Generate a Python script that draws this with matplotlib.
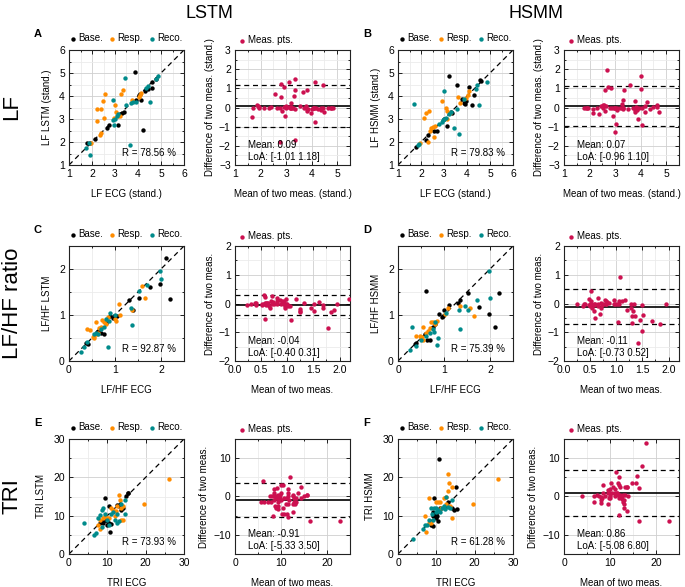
import numpy as np
import matplotlib
matplotlib.use("Agg")
import matplotlib.pyplot as plt
from matplotlib.ticker import MultipleLocator

plt.rcParams['font.family'] = ['Liberation Sans', 'DejaVu Sans']
plt.rcParams['font.size'] = 7

# ---------------- data ----------------
groups = ["Base.", "Resp.", "Reco."]
group_colors = ["#000000", "#ff8c00", "#008b8b"]
ba_color = "#cc1150"

# Panel A: LF, ECG vs LSTM
lf_lstm_base_x = [1.8, 1.9, 2.15, 2.65, 2.75, 3.15, 3.2, 3.3, 3.4, 3.85, 3.9, 4.05, 4.1, 4.12, 4.2, 4.3, 4.45, 4.6, 4.62, 4.8]
lf_lstm_base_y = [1.95, 1.95, 2.15, 2.6, 2.75, 2.73, 3.2, 3.25, 3.3, 5.05, 3.82, 4.05, 4.1, 3.83, 2.52, 4.2, 4.3, 4.35, 4.62, 4.75]
lf_lstm_resp_x = [1.95, 2.2, 2.2, 2.35, 2.38, 2.4, 2.47, 2.52, 2.58, 2.95, 3.0, 3.05, 3.15, 3.2, 3.25, 3.35, 3.75, 4.05, 4.1, 4.15]
lf_lstm_resp_y = [1.95, 3.42, 2.92, 2.3, 2.4, 3.45, 3.78, 3.05, 4.08, 3.05, 3.6, 3.3, 3.12, 3.15, 4.08, 4.28, 3.82, 3.95, 4.05, 4.15]
lf_lstm_reco_x = [1.72, 1.9, 1.88, 2.9, 2.92, 2.95, 3.1, 3.15, 3.45, 3.5, 3.65, 3.7, 3.8, 3.9, 4.35, 4.45, 4.5, 4.8, 4.85, 3.0]
lf_lstm_reco_y = [1.72, 1.42, 1.95, 3.82, 2.95, 2.75, 3.15, 3.2, 4.78, 3.6, 1.85, 3.7, 3.75, 3.72, 4.35, 4.45, 3.75, 4.75, 4.85, 3.0]

# Panel B: LF, ECG vs HSMM
lf_hsmm_base_x = [1.8, 2.2, 2.3, 2.7, 3.15, 3.2, 3.3, 3.35, 3.55, 3.8, 3.85, 3.9, 3.95, 4.1, 4.2, 4.3, 4.55, 4.6, 2.55, 3.0]
lf_hsmm_base_y = [1.8, 2.1, 2.3, 2.5, 2.7, 4.85, 3.3, 3.25, 4.5, 3.85, 3.7, 3.65, 3.8, 4.4, 3.6, 4.05, 4.7, 4.65, 2.5, 3.0]
lf_hsmm_resp_x = [1.95, 2.15, 2.2, 2.35, 2.4, 2.45, 2.5, 2.55, 2.6, 2.9, 3.1, 3.15, 3.15, 3.25, 3.7, 3.95, 4.05, 4.1, 2.3, 3.6]
lf_hsmm_resp_y = [1.95, 3.05, 3.25, 3.35, 2.5, 2.6, 2.65, 2.2, 2.7, 3.8, 3.5, 3.35, 3.0, 3.25, 3.7, 3.9, 4.05, 4.2, 2.0, 3.95]
lf_hsmm_reco_x = [1.7, 1.85, 1.9, 2.8, 2.9, 3.0, 3.0, 3.1, 3.2, 3.45, 3.55, 3.65, 4.4, 4.45, 4.5, 4.85, 3.85, 2.95, 3.3]
lf_hsmm_reco_y = [3.65, 1.85, 1.9, 2.8, 2.85, 4.2, 3.0, 3.05, 3.2, 2.6, 3.45, 2.35, 4.3, 4.5, 3.6, 4.6, 3.85, 2.95, 3.3]

# Panel C: LF/HF, ECG vs LSTM
lfhf_lstm_base_x = [0.38, 0.42, 0.6, 0.62, 0.7, 0.75, 0.8, 0.9, 0.95, 0.97, 1.0, 1.05, 1.3, 1.4, 1.52, 1.75, 1.98, 2.1, 2.2]
lfhf_lstm_base_y = [0.4, 0.38, 0.62, 0.65, 0.6, 0.58, 0.82, 0.97, 0.93, 0.97, 0.95, 0.98, 1.33, 1.1, 1.38, 1.6, 1.68, 2.25, 1.35]
lfhf_lstm_resp_x = [0.4, 0.45, 0.52, 0.55, 0.55, 0.58, 0.6, 0.62, 0.65, 0.7, 0.72, 0.75, 0.8, 0.85, 1.0, 1.02, 1.08, 1.1, 1.37, 1.58, 1.65]
lfhf_lstm_resp_y = [0.7, 0.68, 0.52, 0.5, 0.55, 0.85, 0.58, 0.6, 0.72, 0.75, 0.9, 0.85, 0.8, 0.95, 0.92, 0.88, 1.25, 1.0, 1.1, 1.62, 1.38]
lfhf_lstm_reco_x = [0.25, 0.32, 0.4, 0.55, 0.58, 0.62, 0.7, 0.75, 0.8, 0.85, 0.88, 0.9, 1.0, 1.35, 1.37, 1.52, 1.7, 1.97, 2.0]
lfhf_lstm_reco_y = [0.2, 0.3, 0.42, 0.58, 0.6, 0.58, 0.7, 0.75, 0.92, 0.3, 0.88, 1.05, 1.0, 1.15, 0.78, 1.52, 1.65, 1.95, 1.78]

# Panel D: LF/HF, ECG vs HSMM
lfhf_hsmm_base_x = [0.38, 0.4, 0.6, 0.62, 0.7, 0.75, 0.8, 0.9, 0.95, 1.0, 1.1, 1.3, 1.35, 1.52, 1.75, 1.97, 2.1, 2.2, 0.58, 0.98]
lfhf_hsmm_base_y = [0.38, 0.4, 1.53, 0.45, 0.45, 0.75, 0.8, 1.02, 0.95, 1.1, 1.22, 1.27, 1.32, 1.48, 1.17, 1.02, 0.73, 1.47, 0.58, 0.97]
lfhf_hsmm_resp_x = [0.4, 0.48, 0.5, 0.52, 0.55, 0.6, 0.65, 0.7, 0.72, 0.75, 0.8, 0.85, 1.02, 1.08, 1.35, 1.57, 1.65, 0.55]
lfhf_hsmm_resp_y = [0.55, 0.55, 0.5, 0.52, 0.75, 0.6, 0.65, 0.72, 0.85, 0.85, 0.8, 0.88, 1.02, 1.15, 1.2, 1.15, 0.97, 0.45]
lfhf_hsmm_reco_x = [0.25, 0.3, 0.4, 0.5, 0.6, 0.7, 0.75, 0.78, 0.8, 0.85, 0.88, 1.05, 1.32, 1.35, 1.45, 1.52, 1.72, 1.97, 2.0]
lfhf_hsmm_reco_y = [0.25, 0.75, 0.32, 0.45, 0.55, 0.6, 0.7, 0.62, 0.85, 0.35, 0.5, 1.05, 1.1, 0.7, 1.2, 1.1, 1.32, 1.95, 1.38]

# Panel E: TRI, ECG vs LSTM
tri_lstm_base_x = [8, 8.5, 9, 9, 9.5, 9.5, 10, 10, 10.5, 10.5, 10.8, 11, 12.5, 13, 13.5, 14, 15, 15.5, 15.5, 9.2]
tri_lstm_base_y = [8, 8.5, 8, 9, 9, 14.5, 7.5, 8.5, 8, 12.5, 5.8, 7.8, 12.8, 12.5, 11.5, 12, 15.2, 16, 15.8, 8.8]
tri_lstm_resp_x = [7.5, 8, 8, 9, 9.5, 10, 10.5, 11, 11.5, 12, 12.5, 13, 13.2, 13.5, 13.5, 14, 14.2, 19.5, 26, 12.2]
tri_lstm_resp_y = [7.5, 9, 6.5, 9.5, 10, 9.5, 9.5, 12, 11.5, 10, 12.5, 15.5, 14, 12, 9, 12.5, 8.8, 13, 19.5, 11.2]
tri_lstm_reco_x = [4, 6.5, 7, 7.5, 8, 8.5, 9, 9.5, 10, 10.5, 11, 11.5, 12, 12.5, 12.5, 13, 13.5, 14.5, 14.5, 8.5]
tri_lstm_reco_y = [8.1, 5, 5.5, 9.5, 10.2, 11.5, 12, 10.5, 9, 7.5, 10.5, 11, 9, 10.5, 8, 8.5, 13, 14, 10.5, 7]

# Panel F: TRI, ECG vs HSMM
tri_hsmm_base_x = [8.5, 9, 9, 9.5, 9.5, 10, 10, 10.5, 10.8, 11, 12.5, 13, 14, 14.5, 15.2, 15.5, 9.2, 10.2]
tri_hsmm_base_y = [7.5, 7.2, 11, 14.5, 10.5, 9.5, 10.2, 8.5, 24.7, 12, 12.5, 13.5, 12, 11.5, 17.5, 11.8, 10, 9.8]
tri_hsmm_resp_x = [7, 7.2, 8, 8.2, 8.5, 10, 10.5, 11, 11.2, 12, 12.5, 13, 13, 13.2, 13.5, 14, 14.2, 19.5, 26, 12.5]
tri_hsmm_resp_y = [10, 5.8, 14.5, 8, 8, 13.5, 13.5, 13.5, 12, 14.5, 15, 21, 16.5, 18.5, 12.5, 17.5, 9.5, 13, 19.5, 13]
tri_hsmm_reco_x = [4, 6.5, 7, 7.5, 8, 8.5, 8.8, 9, 9.5, 10, 10, 10.5, 11, 11.5, 12, 12.5, 12.2, 13, 13.5, 14]
tri_hsmm_reco_y = [4, 6.5, 7.5, 7.5, 9, 12, 10.5, 9, 12, 11, 12, 11.5, 11, 12, 12.5, 15, 11.8, 12.3, 12, 14]

# Reported statistics
r_values = [78.56, 79.83, 92.87, 75.39, 73.93, 61.28]
ba_means = [0.09, 0.07, -0.04, -0.11, -0.91, 0.86]
ba_loa_low = [-1.01, -0.96, -0.40, -0.73, -5.33, -5.08]
ba_loa_high = [1.18, 1.10, 0.31, 0.52, 3.50, 6.80]

row_titles = ["LF", "LF/HF ratio", "TRI"]
col_titles = ["LSTM", "HSMM"]
panel_letters = ["A", "B", "C", "D", "E", "F"]

# ---------------- layout ----------------
W, H = 685, 587
fig = plt.figure(figsize=(W / 100, H / 100), dpi=100)

col_left = [69, 235, 398, 564]
row_bottom = [165, 361, 554]
SZ = 115


def make_ax(col, row):
    return fig.add_axes([col_left[col] / W, 1 - row_bottom[row] / H, SZ / W, SZ / H])


def style(ax, xmaj, xmin, ymaj, ymin):
    ax.xaxis.set_major_locator(MultipleLocator(xmaj))
    ax.xaxis.set_minor_locator(MultipleLocator(xmin))
    ax.yaxis.set_major_locator(MultipleLocator(ymaj))
    ax.yaxis.set_minor_locator(MultipleLocator(ymin))
    ax.tick_params(which='both', direction='in', top=True, right=True, labelsize=7.5, width=0.6)
    ax.tick_params(which='major', length=3, pad=3)
    ax.tick_params(which='minor', length=1.5)
    ax.grid(which='major', color='#cfcfcf', lw=0.6)
    ax.grid(which='minor', color='#ebebeb', lw=0.6)
    ax.set_axisbelow(True)
    for s in ax.spines.values():
        s.set_linewidth(0.8)
        s.set_color('#222222')


scatter_specs = [
    (0, 0, [(lf_lstm_base_x, lf_lstm_base_y), (lf_lstm_resp_x, lf_lstm_resp_y), (lf_lstm_reco_x, lf_lstm_reco_y)],
     (1, 6), (1, 0.5), "LF ECG (stand.)", "LF LSTM (stand.)"),
    (2, 0, [(lf_hsmm_base_x, lf_hsmm_base_y), (lf_hsmm_resp_x, lf_hsmm_resp_y), (lf_hsmm_reco_x, lf_hsmm_reco_y)],
     (1, 6), (1, 0.5), "LF ECG (stand.)", "LF HSMM (stand.)"),
    (0, 1, [(lfhf_lstm_base_x, lfhf_lstm_base_y), (lfhf_lstm_resp_x, lfhf_lstm_resp_y), (lfhf_lstm_reco_x, lfhf_lstm_reco_y)],
     (0, 2.5), (1, 0.5), "LF/HF ECG", "LF/HF LSTM"),
    (2, 1, [(lfhf_hsmm_base_x, lfhf_hsmm_base_y), (lfhf_hsmm_resp_x, lfhf_hsmm_resp_y), (lfhf_hsmm_reco_x, lfhf_hsmm_reco_y)],
     (0, 2.5), (1, 0.5), "LF/HF ECG", "LF/HF HSMM"),
    (0, 2, [(tri_lstm_base_x, tri_lstm_base_y), (tri_lstm_resp_x, tri_lstm_resp_y), (tri_lstm_reco_x, tri_lstm_reco_y)],
     (0, 30), (10, 5), "TRI ECG", "TRI LSTM"),
    (2, 2, [(tri_hsmm_base_x, tri_hsmm_base_y), (tri_hsmm_resp_x, tri_hsmm_resp_y), (tri_hsmm_reco_x, tri_hsmm_reco_y)],
     (0, 30), (10, 5), "TRI ECG", "TRI HSMM"),
]

ba_specs = [
    ((1, 5.5), (-3, 3), (1, 0.5), (1, 0.5), "Mean of two meas. (stand.)", "Difference of two meas. (stand.)"),
    ((1, 5.5), (-3, 3), (1, 0.5), (1, 0.5), "Mean of two meas. (stand.)", "Difference of two meas. (stand.)"),
    ((0, 2.2), (-2, 2), (0.5, 0.25), (1, 0.5), "Mean of two meas.", "Difference of two meas."),
    ((0, 2.2), (-2, 2), (0.5, 0.25), (1, 0.5), "Mean of two meas.", "Difference of two meas."),
    ((0, 25), (-15, 15), (10, 5), (10, 5), "Mean of two meas.", "Difference of two meas."),
    ((0, 25), (-15, 15), (10, 5), (10, 5), "Mean of two meas.", "Difference of two meas."),
]

for i, (col, row, data, lim, (maj, mnr), xl, yl) in enumerate(scatter_specs):
    ax = make_ax(col, row)
    style(ax, maj, mnr, maj, mnr)
    ax.plot(lim, lim, ls=(0, (4, 3)), color='black', lw=0.9, zorder=2)
    for (gx, gy), name, c in zip(data, groups, group_colors):
        ax.scatter(gx, gy, s=10, color=c, label=name, zorder=3, linewidths=0)
    ax.set_xlim(lim)
    ax.set_ylim(lim)
    ax.set_xlabel(xl, fontsize=7, labelpad=7)
    ax.set_ylabel(yl, fontsize=7, labelpad=5)
    ax.text(0.93, 0.06, f"R = {r_values[i]:.2f} %", transform=ax.transAxes,
            ha='right', va='bottom', fontsize=7)
    ax.legend(loc='lower center', bbox_to_anchor=(0.5, 1.0), ncol=3, frameon=False,
              handlelength=0.5, handletextpad=0.3, columnspacing=0.7, borderaxespad=0.3,
              fontsize=7, scatterpoints=1)
    fig.text((col_left[col] - 35) / W, 1 - (row_bottom[row] - SZ - 16) / H, panel_letters[i],
             fontweight='bold', fontsize=8, ha='left', va='center')

    # Bland-Altman from the same measurements
    x_all = np.concatenate([np.asarray(d[0], float) for d in data])
    y_all = np.concatenate([np.asarray(d[1], float) for d in data])
    means = (x_all + y_all) / 2
    diffs = y_all - x_all
    xlim, ylim, (xmaj, xmin), (ymaj, ymin), bxl, byl = ba_specs[i]
    bx = make_ax(col + 1, row)
    style(bx, xmaj, xmin, ymaj, ymin)
    bx.scatter(means, diffs, s=10, color=ba_color, label="Meas. pts.", zorder=3, linewidths=0)
    bx.axhline(ba_means[i], color='black', lw=1.2, zorder=2)
    bx.axhline(ba_loa_low[i], color='black', lw=0.9, ls=(0, (4, 3)), zorder=2)
    bx.axhline(ba_loa_high[i], color='black', lw=0.9, ls=(0, (4, 3)), zorder=2)
    bx.set_xlim(xlim)
    bx.set_ylim(ylim)
    bx.set_xlabel(bxl, fontsize=7, labelpad=7)
    bx.set_ylabel(byl, fontsize=7, labelpad=3)
    bx.text(0.11, 0.03, f"Mean: {ba_means[i]:.2f}\nLoA: [{ba_loa_low[i]:.2f} {ba_loa_high[i]:.2f}]",
            transform=bx.transAxes, ha='left', va='bottom', fontsize=7, linespacing=1.25)
    bx.legend(loc='lower left', bbox_to_anchor=(0.0, 1.0), frameon=False,
              handlelength=0.5, handletextpad=0.3, borderaxespad=0.3, borderpad=0.2,
              fontsize=7, scatterpoints=1)

# Column titles
fig.text(209 / W, 1 - 14 / H, col_titles[0], fontsize=13, ha='center', va='center')
fig.text(536 / W, 1 - 14 / H, col_titles[1], fontsize=13, ha='center', va='center')

# Row titles
for r, t in enumerate(row_titles):
    yc = row_bottom[r] - SZ / 2
    fig.text(12 / W, 1 - yc / H, t, fontsize=16, rotation=90, ha='center', va='center')

fig.savefig("out.png", dpi=100)
